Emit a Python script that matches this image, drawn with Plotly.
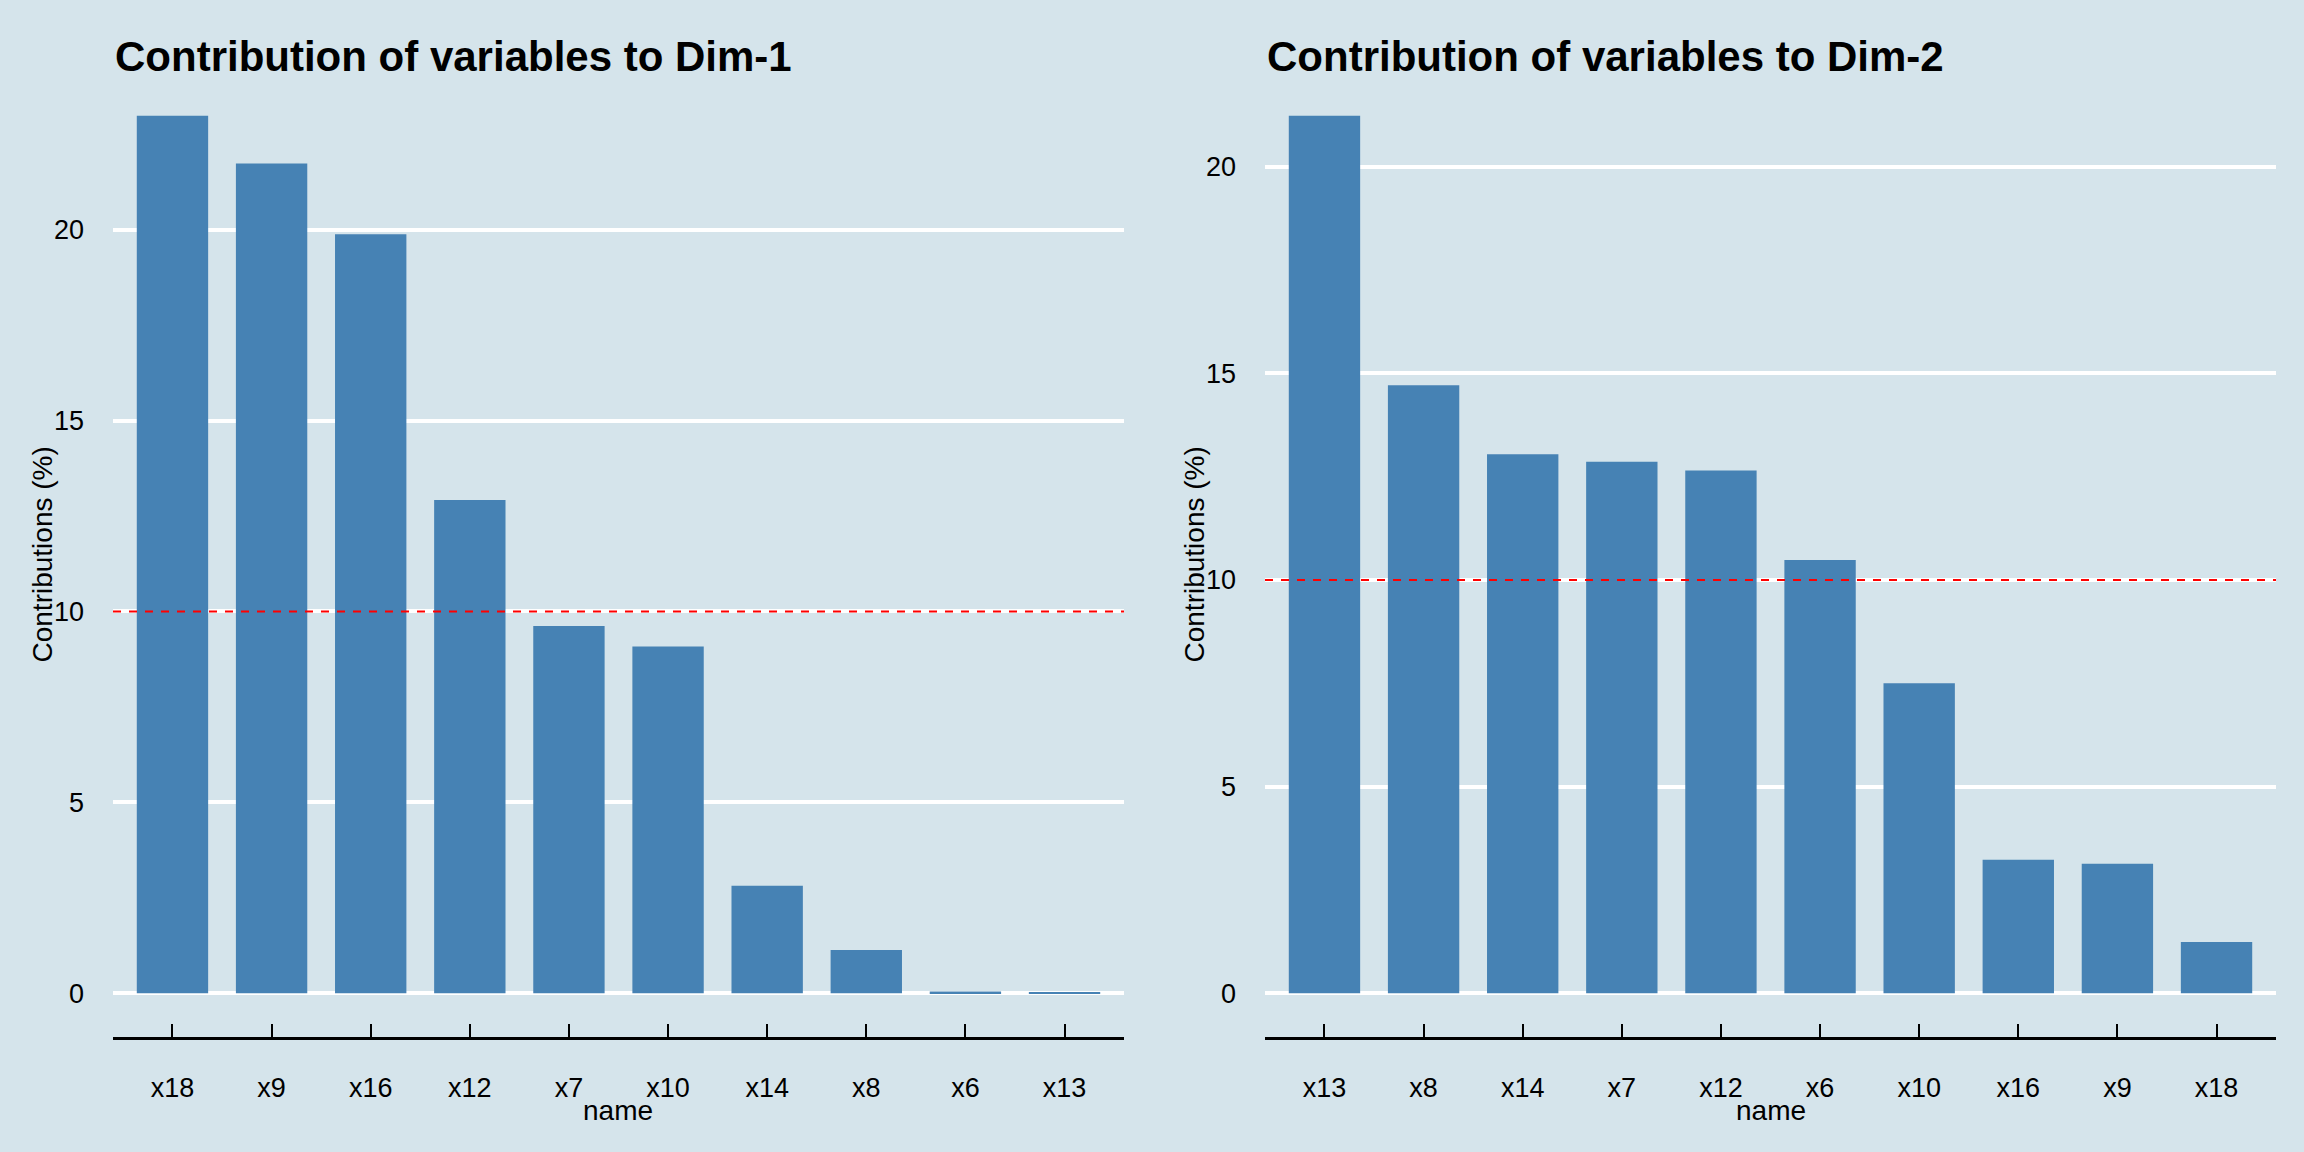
import plotly.graph_objects as go

# ---- data ----
dim1_names = ["x18", "x9", "x16", "x12", "x7", "x10", "x14", "x8", "x6", "x13"]
dim1_values = [22.98, 21.73, 19.88, 12.92, 9.62, 9.08, 2.81, 1.13, 0.04, 0.03]
dim2_names = ["x13", "x8", "x14", "x7", "x12", "x6", "x10", "x16", "x9", "x18"]
dim2_values = [21.23, 14.71, 13.04, 12.86, 12.65, 10.48, 7.50, 3.23, 3.13, 1.24]
titles = ["Contribution of variables to Dim-1", "Contribution of variables to Dim-2"]
y_ticks = [0, 5, 10, 15, 20]
threshold = 10

BG = "#D5E4EB"
BAR = "#4682B4"
FONT = "Liberation Sans, Arial, sans-serif"
W, H = 2304, 1152

fig = go.Figure()

panels = [
    (dim1_names, dim1_values, "x", "y", [113 / W, 1124 / W]),
    (dim2_names, dim2_values, "x2", "y2", [1265 / W, 2276 / W]),
]
ydom = [1 - 1037 / H, 1 - 72 / H]

for i, (names, vals, xa, ya, xdom) in enumerate(panels):
    fig.add_trace(go.Bar(x=names, y=vals, xaxis=xa, yaxis=ya,
                         marker=dict(color=BAR, line=dict(width=0)),
                         width=0.72, showlegend=False))
    vmax = max(vals)
    pad = 0.05 * vmax
    suffix = "" if i == 0 else "2"
    fig.update_layout(**{
        "xaxis" + suffix: dict(
            domain=xdom, anchor=ya, type="category", range=[-0.6, len(names) - 0.4],
            showgrid=False, zeroline=False, showline=True, linecolor="black", linewidth=2.5,
            ticks="inside", ticklen=13, tickwidth=1.5, tickcolor="black",
            ticklabelstandoff=25,
            tickfont=dict(family=FONT, size=27, color="black"), fixedrange=True),
        "yaxis" + suffix: dict(
            domain=ydom, anchor=xa, range=[-pad, vmax + pad],
            tickvals=y_ticks, ticktext=[str(t) for t in y_ticks],
            showgrid=True, gridcolor="white", gridwidth=4, zeroline=False,
            showline=False, ticks="", ticklabelstandoff=28,
            tickfont=dict(family=FONT, size=27, color="black"), fixedrange=True),
    })
    # threshold line
    fig.add_shape(type="line", xref=xa + " domain", yref=ya, x0=0, x1=1,
                  y0=threshold, y1=threshold,
                  line=dict(color="red", width=2, dash="8px,8px"))
    # title
    fig.add_annotation(text="<b>" + titles[i] + "</b>", xref="paper", yref="paper",
                       x=xdom[0], y=1 - 56 / H, xanchor="left", yanchor="middle",
                       showarrow=False, font=dict(family=FONT, size=42, color="black"))
    # x axis title
    fig.add_annotation(text="name", xref="paper", yref="paper",
                       x=(xdom[0] + xdom[1]) / 2, y=1 - 1110 / H,
                       xanchor="center", yanchor="middle", showarrow=False,
                       font=dict(family=FONT, size=28, color="black"))
    # y axis title
    fig.add_annotation(text="Contributions (%)", xref="paper", yref="paper",
                       x=(42 + (0 if i == 0 else 1152)) / W, y=(ydom[0] + ydom[1]) / 2,
                       xanchor="center", yanchor="middle", textangle=-90, showarrow=False,
                       font=dict(family=FONT, size=28, color="black"))

fig.update_layout(width=W, height=H, paper_bgcolor=BG, plot_bgcolor=BG,
                  margin=dict(l=0, r=0, t=0, b=0, autoexpand=False),
                  bargap=0.28, showlegend=False)

fig.write_html("out.html", config={"displayModeBar": False},
               post_script="document.body.style.margin='0';document.body.style.background='" + BG + "';")
